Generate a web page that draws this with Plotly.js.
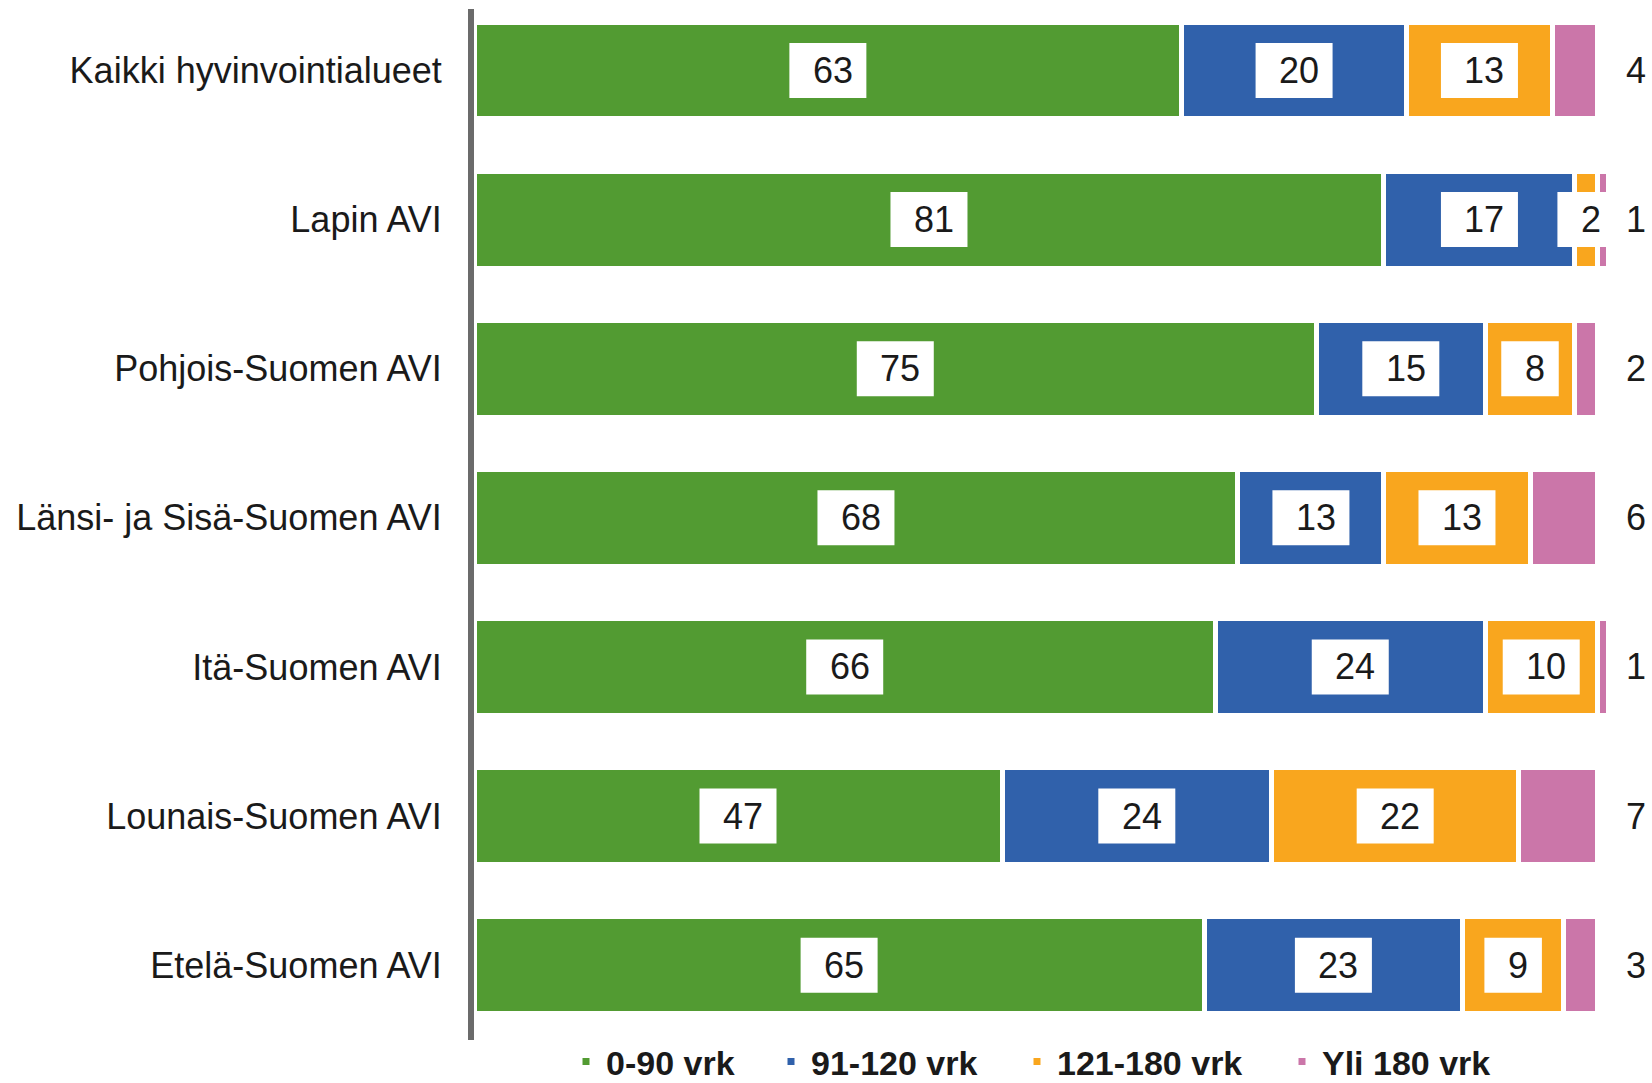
<!DOCTYPE html>
<html><head><meta charset="utf-8">
<script src="https://cdn.plot.ly/plotly-3.0.1.min.js"></script>
<style>html,body{margin:0;padding:0;background:#fff}#chart{width:1652px;height:1083px}</style>
</head><body><div id="chart"></div>
<script>
const categories = ['Kaikki hyvinvointialueet','Lapin AVI','Pohjois-Suomen AVI','Länsi- ja Sisä-Suomen AVI','Itä-Suomen AVI','Lounais-Suomen AVI','Etelä-Suomen AVI'];
const seriesNames = ['0-90 vrk','91-120 vrk','121-180 vrk','Yli 180 vrk'];
const v0_90 = [63,81,75,68,66,47,65];
const v91_120 = [20,17,15,13,24,24,23];
const v121_180 = [13,2,8,13,10,22,9];
const vYli180 = [4,1,2,6,1,7,3];

const series = [v0_90, v91_120, v121_180, vYli180];
const colors = ['#529B32','#3061AB','#F9A61E','#CB76A9'];
const FONT = 'Liberation Sans, Arial, sans-serif';
const NUM_COLOR = '#1a1a1a';
const legendIds = ['legend', 'legend2', 'legend3', 'legend4'];
const legendLeft = [566, 771, 1017, 1282];

const traces = series.map((vals, i) => ({
  type: 'bar',
  orientation: 'h',
  name: seriesNames[i],
  legend: legendIds[i],
  x: vals,
  y: categories,
  marker: {color: colors[i], line: {color: '#ffffff', width: 5}},
  hoverinfo: 'skip'
}));

const annotations = [];
const shapes = [];
categories.forEach((cat, r) => {
  let cum = 0;
  series.forEach((vals, i) => {
    const v = vals[r];
    const center = cum + v / 2;
    cum += v;
    if (i < series.length - 1) {
      const w = 19.5 * String(v).length + 38;
      shapes.push({
        type: 'rect', layer: 'above',
        xref: 'x', yref: 'y',
        xsizemode: 'pixel', xanchor: center, x0: -w / 2, x1: w / 2,
        ysizemode: 'pixel', yanchor: cat, y0: -27.5, y1: 27.5,
        fillcolor: '#ffffff', line: {width: 0}
      });
      annotations.push({
        x: center, y: cat, xref: 'x', yref: 'y',
        text: String(v), showarrow: false, xshift: 5,
        font: {family: FONT, size: 36, color: NUM_COLOR}
      });
    } else {
      annotations.push({
        x: 103.4, y: cat, xref: 'x', yref: 'y',
        text: String(v), showarrow: false,
        font: {family: FONT, size: 36, color: NUM_COLOR}
      });
    }
  });
});

const layout = {
  width: 1652, height: 1083,
  margin: {l: 474, r: 0, t: 9, b: 43, autoexpand: false},
  paper_bgcolor: '#ffffff', plot_bgcolor: '#ffffff',
  barmode: 'stack',
  bargap: 0.35,
  showlegend: true,
  xaxis: {
    range: [0, 104.86],
    showgrid: false, zeroline: false, showline: false,
    showticklabels: false, ticks: '', fixedrange: true
  },
  yaxis: {
    type: 'category',
    range: [6.5017, -0.4125],
    showgrid: false, zeroline: false,
    showline: true, linecolor: '#6b6b6b', linewidth: 6,
    ticks: '', ticklabelstandoff: 19,
    tickfont: {family: FONT, size: 36, color: NUM_COLOR},
    fixedrange: true
  },
  shapes: shapes,
  annotations: annotations,
  font: {family: FONT}
};

legendIds.forEach((id, i) => {
  layout[id] = {
    orientation: 'h',
    xref: 'container', yref: 'container',
    x: legendLeft[i] / 1652, xanchor: 'left',
    y: 21 / 1083, yanchor: 'middle',
    bgcolor: 'rgba(0,0,0,0)',
    font: {family: FONT, size: 34, color: NUM_COLOR, weight: 'bold'},
    itemclick: false, itemdoubleclick: false
  };
});

Plotly.newPlot('chart', traces, layout, {displayModeBar: false, staticPlot: true});
</script>
</body></html>
